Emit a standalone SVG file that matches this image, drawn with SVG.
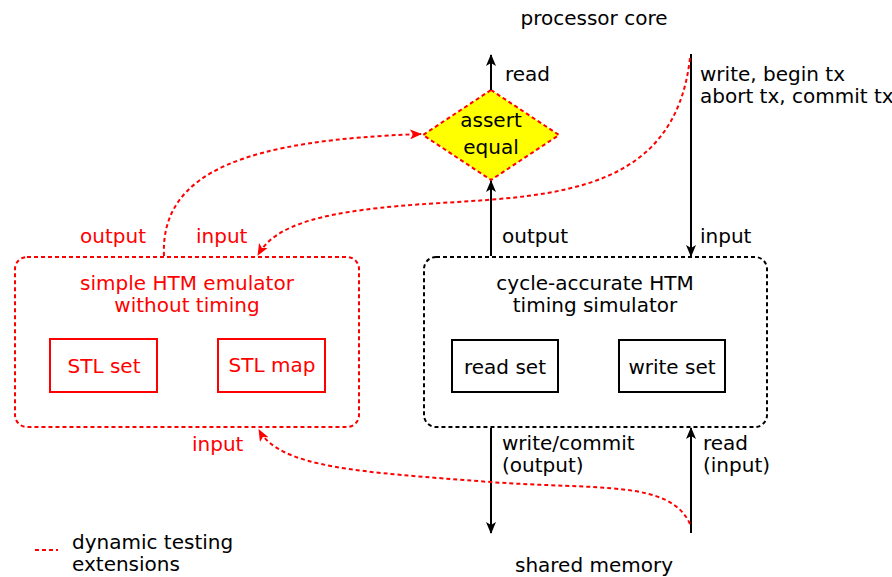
<svg xmlns="http://www.w3.org/2000/svg" width="892" height="577" viewBox="0 0 892 577">
<style>
text{font-family:"DejaVu Sans","Open Sans",sans-serif;font-size:20px;fill:#000}
.r{fill:#f00}
.m{text-anchor:middle}
.bk{fill:none;stroke:#000;stroke-width:2}
.rd{fill:none;stroke:#f00;stroke-width:2}
.dash{stroke-dasharray:4,3}
.ln{fill:none;stroke:#000;stroke-width:2}
.rl{fill:none;stroke:#f00;stroke-width:2;stroke-dasharray:4,3}
</style>
<defs>
<marker id="ab" viewBox="0 0 12 10" refX="11" refY="5" markerWidth="12" markerHeight="10" markerUnits="userSpaceOnUse" orient="auto"><path d="M0,0 L12,5 L0,10 L3,5 Z" fill="#000"/></marker>
<marker id="ar" viewBox="0 0 12 10" refX="11" refY="5" markerWidth="12" markerHeight="10" markerUnits="userSpaceOnUse" orient="auto"><path d="M0,0 L12,5 L0,10 L3,5 Z" fill="#f00"/></marker>
</defs>
<text class="m" x="594" y="25">processor core</text>
<text class="m" x="594" y="572">shared memory</text>
<g id="assert">
<polygon points="491,90 559,135 491,180 423,135" fill="#ff0" stroke="#f00" stroke-width="2" stroke-dasharray="4,3"/>
<text class="m" x="491" y="127">assert</text>
<text class="m" x="491" y="154">equal</text>
</g>
<g id="simulator">
<rect x="424" y="257" width="343" height="170" rx="12" class="bk dash"/>
<text class="m" x="595" y="290">cycle-accurate HTM</text>
<text class="m" x="595" y="312">timing simulator</text>
<g id="readset"><rect x="452" y="340" width="106" height="52" class="bk"/><text class="m" x="505" y="374">read set</text></g>
<g id="writeset"><rect x="619" y="340" width="106" height="52" class="bk"/><text class="m" x="672" y="374">write set</text></g>
</g>
<g id="emulator">
<rect x="15" y="257" width="344" height="170" rx="12" class="rd dash"/>
<text class="m r" x="187" y="290">simple HTM emulator</text>
<text class="m r" x="187" y="312">without timing</text>
<g id="stlset"><rect x="50" y="339" width="107" height="53" class="rd"/><text class="m r" x="104" y="373">STL set</text></g>
<g id="stlmap"><rect x="218" y="339" width="107" height="53" class="rd"/><text class="m r" x="272" y="372">STL map</text></g>
</g>
<g id="connectors">
<line x1="491" y1="90" x2="491" y2="55" class="ln" marker-end="url(#ab)"/>
<line x1="491" y1="256" x2="491" y2="181" class="ln" marker-end="url(#ab)"/>
<line x1="691" y1="54" x2="691" y2="256" class="ln" marker-end="url(#ab)"/>
<line x1="491" y1="428" x2="491" y2="533" class="ln" marker-end="url(#ab)"/>
<line x1="691" y1="533" x2="691" y2="428" class="ln" marker-end="url(#ab)"/>
<path d="M164,256 C160,170 250,140 421,134" class="rl" marker-end="url(#ar)"/>
<path d="M690,58 C675,190 560,196 440,203 C320,210 275,225 258,255" class="rl" marker-end="url(#ar)"/>
<path d="M690,524 C670,480 600,490 490,482 C360,472 280,468 259,430" class="rl" marker-end="url(#ar)"/>
<line x1="35" y1="550" x2="58" y2="550" class="rl"/>
</g>
<text x="505" y="81">read</text>
<text x="502" y="243">output</text>
<text x="700" y="81">write, begin tx</text>
<text x="700" y="103">abort tx, commit tx</text>
<text x="700" y="243">input</text>
<text x="502" y="450">write/commit</text>
<text x="502" y="472">(output)</text>
<text x="703" y="450">read</text>
<text x="703" y="472">(input)</text>
<text class="r" x="80" y="243">output</text>
<text class="r" x="196" y="243">input</text>
<text class="r" x="192" y="451">input</text>
<text x="72" y="549">dynamic testing</text>
<text x="72" y="571">extensions</text>
</svg>
